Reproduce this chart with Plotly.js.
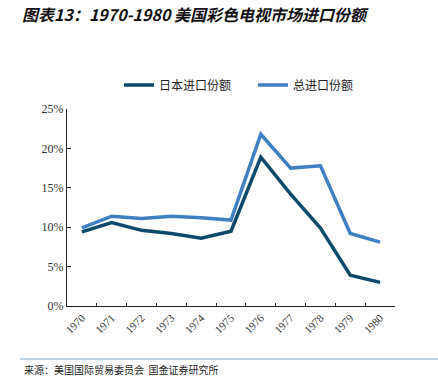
<!DOCTYPE html>
<html>
<head>
<meta charset="utf-8">
<script src="https://cdn.plot.ly/plotly-3.0.1.min.js"></script>
<style>html,body{margin:0;padding:0;background:#fff;}#chart{width:438px;height:377px;}</style>
</head>
<body>
<div id="chart"></div>
<script>
const years = ['1970','1971','1972','1973','1974','1975','1976','1977','1978','1979','1980'];
const japanShare = [9.4, 10.6, 9.6, 9.2, 8.6, 9.5, 18.9, 14.2, 9.9, 3.9, 3.0];
const totalShare = [9.9, 11.4, 11.1, 11.4, 11.2, 10.9, 21.8, 17.5, 17.8, 9.2, 8.1];
const seriesNames = ['日本进口份额', '总进口份额'];
const yTicks = [0, 5, 10, 15, 20, 25];
const yTickText = ['0%', '5%', '10%', '15%', '20%', '25%'];

const W = 438, H = 377;
const M = {l: 67, r: 43, t: 109, b: 71};
const pw = W - M.l - M.r, ph = H - M.t - M.b;
const px = x => (x - M.l) / pw;
const py = y => (H - M.b - y) / ph;

const traces = [
  {x: years, y: japanShare, name: seriesNames[0], type: 'scatter', mode: 'lines',
   line: {color: '#0B4A6B', width: 3.5}},
  {x: years, y: totalShare, name: seriesNames[1], type: 'scatter', mode: 'lines',
   line: {color: '#3F80C2', width: 3.5}}
];

const layout = {
  width: W, height: H,
  margin: M,
  paper_bgcolor: '#fff', plot_bgcolor: '#fff',
  showlegend: true,
  title: {text: '图表13：1970-1980 美国彩色电视市场进口份额', xref: 'container', yref: 'container',
          x: 22 / W, xanchor: 'left', y: 1 - 15 / H, yanchor: 'middle',
          font: {family: '"Noto Sans CJK SC", sans-serif', size: 16, color: '#111', style: 'italic', weight: 'bold'}},
  legend: {orientation: 'h', x: px(119), xanchor: 'left', y: py(85), yanchor: 'middle',
           font: {family: '"Noto Sans CJK SC", serif', size: 12, color: '#222'},
           itemwidth: 30, entrywidth: 89, bgcolor: 'rgba(0,0,0,0)'},
  xaxis: {type: 'category', range: [-0.5, 10.5], tickson: 'boundaries', ticks: 'inside', ticklen: 3,
          tickcolor: '#222', showline: true, linecolor: '#222', linewidth: 1.2, showgrid: false,
          zeroline: false, tickangle: -45,
          tickfont: {family: '"Liberation Serif", serif', size: 11, color: '#333'}},
  yaxis: {range: [0, 25], tickvals: yTicks, ticktext: yTickText, ticks: 'inside', ticklen: 4,
          tickcolor: '#222', showline: true, linecolor: '#222', linewidth: 1.2, showgrid: false,
          zeroline: false, tickfont: {family: '"Liberation Serif", serif', size: 12, color: '#333'}},
  shapes: [
    {type: 'line', xref: 'paper', yref: 'paper', x0: px(20), x1: px(438), y0: py(359), y1: py(359),
     line: {color: '#A9C3D8', width: 1.5}}
  ],
  annotations: [
    {text: '来源：美国国际贸易委员会  国金证券研究所', xref: 'paper', yref: 'paper',
     x: px(22), y: py(369), xanchor: 'left', yanchor: 'middle', showarrow: false,
     font: {family: '"Noto Sans CJK SC", serif', size: 10, color: '#222'}}
  ]
};

Plotly.newPlot('chart', traces, layout, {displayModeBar: false, staticPlot: true});
</script>
</body>
</html>
